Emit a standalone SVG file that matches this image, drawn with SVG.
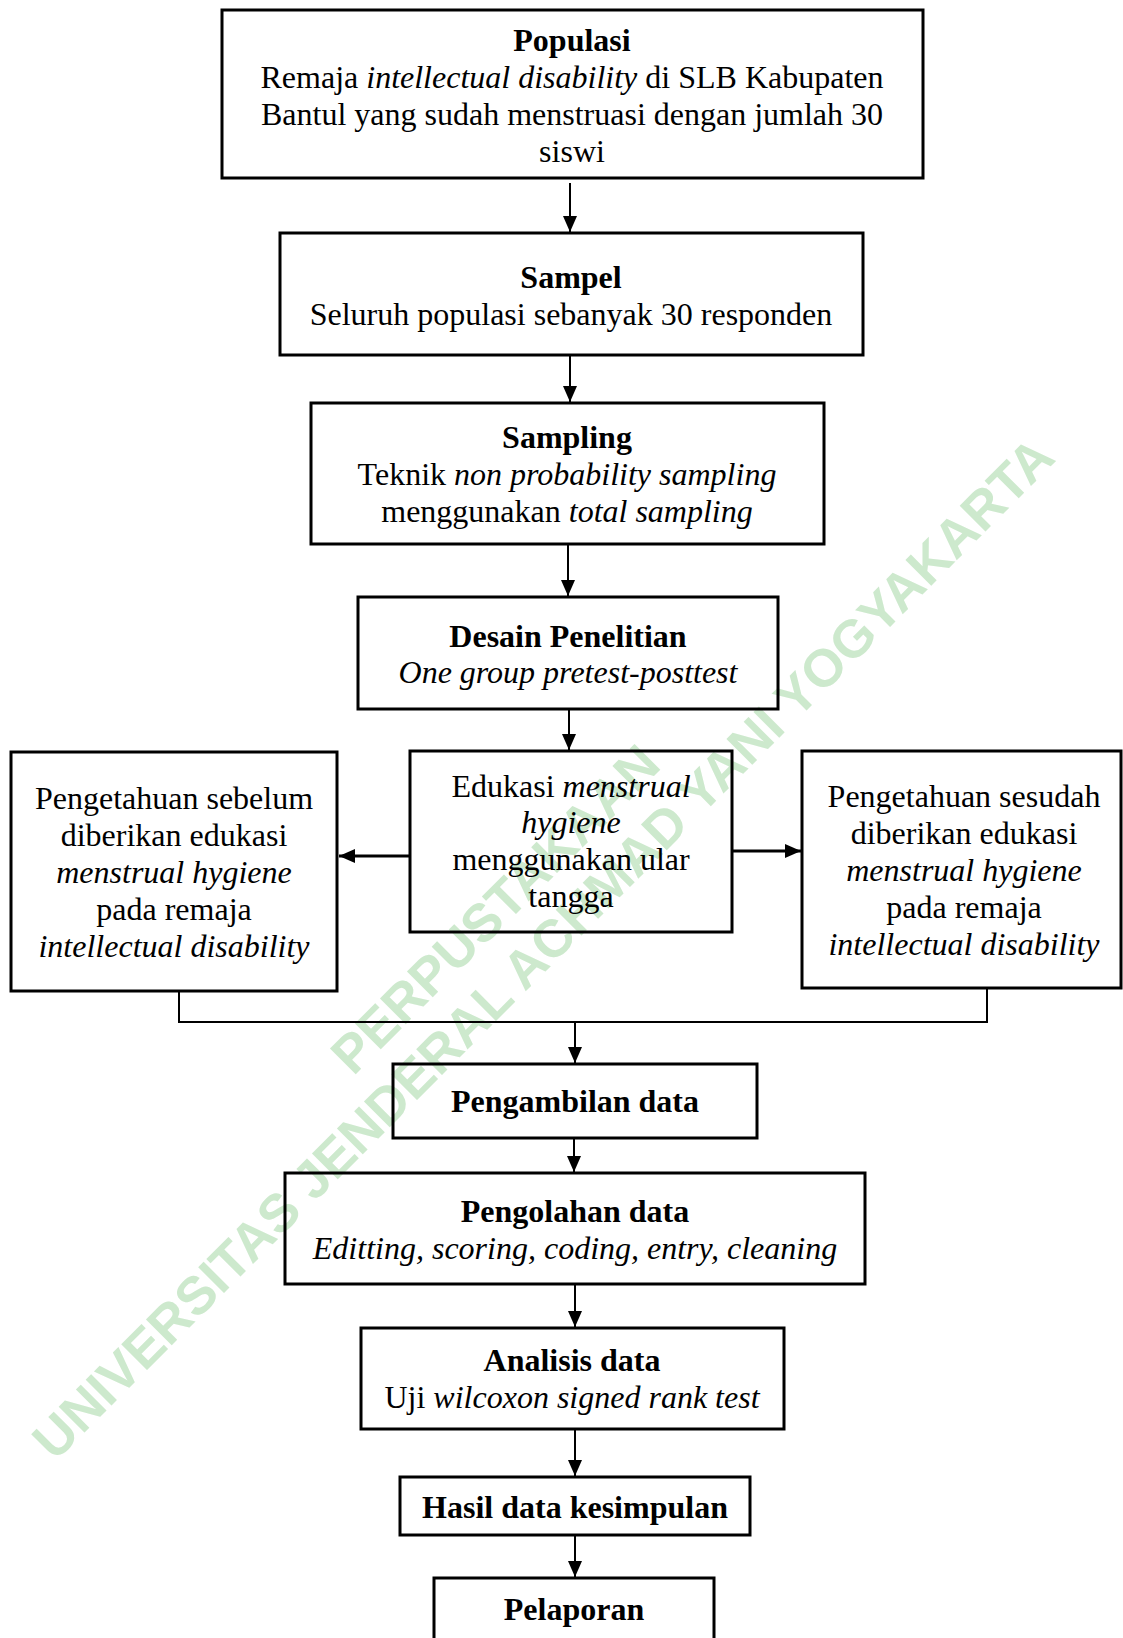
<svg xmlns="http://www.w3.org/2000/svg" width="1123" height="1638" viewBox="0 0 1123 1638">
<style>
.box{fill:none;stroke:#000;stroke-width:3}
.t{font-family:"Liberation Serif","Times New Roman",serif;font-size:32px;fill:#000;text-anchor:middle}
.b{font-weight:bold}
.i{font-style:italic}
.ln{fill:none;stroke:#000;stroke-width:2}
.lnh{fill:none;stroke:#000;stroke-width:3}
.wm{font-family:"Liberation Sans",Arial,sans-serif;font-weight:bold;font-size:53px;fill:#cde9cd;text-anchor:middle}
</style>
<defs>
<marker id="ah" markerUnits="userSpaceOnUse" markerWidth="16" markerHeight="14" refX="16" refY="7" orient="auto">
<path d="M0,0 L16,7 L0,14 z" fill="#000"/>
</marker>
</defs>
<rect width="1123" height="1638" fill="#fff"/>
<g id="watermark">
<text class="wm" transform="translate(508,922) rotate(-45)">PERPUSTAKAAN</text>
<text class="wm" transform="translate(556,961) rotate(-45)">UNIVERSITAS JENDERAL ACHMAD YANI YOGYAKARTA</text>
</g>
<g id="connectors">
<line class="ln" x1="570" y1="183" x2="570" y2="232" marker-end="url(#ah)"/>
<line class="ln" x1="570" y1="356" x2="570" y2="402" marker-end="url(#ah)"/>
<line class="ln" x1="568" y1="545" x2="568" y2="596" marker-end="url(#ah)"/>
<line class="ln" x1="569" y1="710" x2="569" y2="750" marker-end="url(#ah)"/>
<line class="lnh" x1="410" y1="856" x2="339" y2="856" marker-end="url(#ah)"/>
<line class="lnh" x1="732" y1="851" x2="801" y2="851" marker-end="url(#ah)"/>
<polyline class="ln" points="179,992 179,1022 987,1022 987,989"/>
<line class="ln" x1="575" y1="1022" x2="575" y2="1063" marker-end="url(#ah)"/>
<line class="ln" x1="574" y1="1139" x2="574" y2="1172" marker-end="url(#ah)"/>
<line class="ln" x1="575" y1="1285" x2="575" y2="1327" marker-end="url(#ah)"/>
<line class="ln" x1="575" y1="1430" x2="575" y2="1476" marker-end="url(#ah)"/>
<line class="ln" x1="575" y1="1536" x2="575" y2="1577" marker-end="url(#ah)"/>
</g>
<g id="populasi">
<rect class="box" x="222" y="10" width="701" height="168"/>
<text class="t b" x="572" y="51">Populasi</text>
<text class="t" x="572" y="88">Remaja <tspan class="i">intellectual disability</tspan> di SLB Kabupaten</text>
<text class="t" x="572" y="125">Bantul yang sudah menstruasi dengan jumlah 30</text>
<text class="t" x="572" y="162">siswi</text>
</g>
<g id="sampel">
<rect class="box" x="280" y="233" width="583" height="122"/>
<text class="t b" x="571" y="288">Sampel</text>
<text class="t" x="571" y="325">Seluruh populasi sebanyak 30 responden</text>
</g>
<g id="sampling">
<rect class="box" x="311" y="403" width="513" height="141"/>
<text class="t b" x="567" y="448">Sampling</text>
<text class="t" x="567" y="485">Teknik <tspan class="i">non probability sampling</tspan></text>
<text class="t" x="567" y="522">menggunakan <tspan class="i">total sampling</tspan></text>
</g>
<g id="desain">
<rect class="box" x="358" y="597" width="420" height="112"/>
<text class="t b" x="568" y="647">Desain Penelitian</text>
<text class="t i" x="568" y="683">One group pretest-posttest</text>
</g>
<g id="edukasi">
<rect class="box" x="410" y="751" width="322" height="181"/>
<text class="t" x="571" y="797">Edukasi <tspan class="i">menstrual</tspan></text>
<text class="t i" x="571" y="833">hygiene</text>
<text class="t" x="571" y="870">menggunakan ular</text>
<text class="t" x="571" y="907">tangga</text>
</g>
<g id="sebelum">
<rect class="box" x="11" y="752" width="326" height="239"/>
<text class="t" x="174" y="809">Pengetahuan sebelum</text>
<text class="t" x="174" y="846">diberikan edukasi</text>
<text class="t i" x="174" y="883">menstrual hygiene</text>
<text class="t" x="174" y="920">pada remaja</text>
<text class="t i" x="174" y="957">intellectual disability</text>
</g>
<g id="sesudah">
<rect class="box" x="802" y="751" width="319" height="237"/>
<text class="t" x="964" y="807">Pengetahuan sesudah</text>
<text class="t" x="964" y="844">diberikan edukasi</text>
<text class="t i" x="964" y="881">menstrual hygiene</text>
<text class="t" x="964" y="918">pada remaja</text>
<text class="t i" x="964" y="955">intellectual disability</text>
</g>
<g id="pengambilan">
<rect class="box" x="393" y="1064" width="364" height="74"/>
<text class="t b" x="575" y="1112">Pengambilan data</text>
</g>
<g id="pengolahan">
<rect class="box" x="285" y="1173" width="580" height="111"/>
<text class="t b" x="575" y="1222">Pengolahan data</text>
<text class="t i" x="575" y="1259">Editting, scoring, coding, entry, cleaning</text>
</g>
<g id="analisis">
<rect class="box" x="361" y="1328" width="423" height="101"/>
<text class="t b" x="572" y="1371">Analisis data</text>
<text class="t" x="572" y="1408">Uji <tspan class="i">wilcoxon signed rank test</tspan></text>
</g>
<g id="hasil">
<rect class="box" x="400" y="1477" width="350" height="58"/>
<text class="t b" x="575" y="1518">Hasil data kesimpulan</text>
</g>
<g id="pelaporan">
<rect class="box" x="434" y="1578" width="280" height="80"/>
<text class="t b" x="574" y="1620">Pelaporan</text>
</g>
</svg>
